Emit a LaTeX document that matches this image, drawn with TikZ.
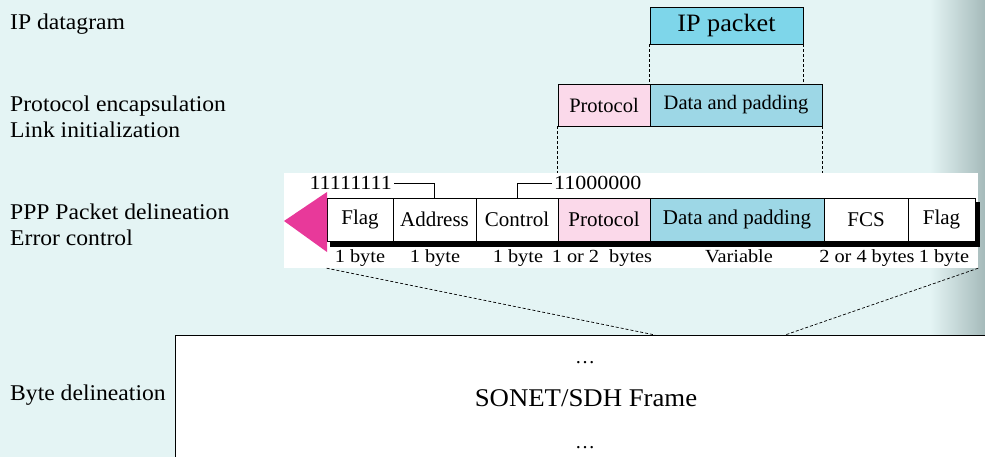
\documentclass[tikz,border=0pt]{standalone}
\usepackage{fontspec}
\setmainfont{Liberation Serif}
\newfontfamily\lblfont[FakeStretch=1.05]{Liberation Serif}
\newfontfamily\bitfont[FakeStretch=1.1]{Liberation Serif}
\newcommand\sizelblfont{\bitfont\fontsize{18.5}{22}\selectfont\spaceskip 5pt\relax}
\usetikzlibrary{calc}

\definecolor{bgcyan}{HTML}{E4F4F4}
\definecolor{edgegray}{HTML}{A5BABA}
\definecolor{ipblue}{HTML}{7ED6EA}
\definecolor{datablue}{HTML}{9DD7E6}
\definecolor{protopink}{HTML}{FBD9EA}
\definecolor{flagmagenta}{HTML}{E8399A}

\begin{document}
\begin{tikzpicture}[x=1pt,y=-1pt,
  layer/.style={anchor=base west, inner sep=0pt,
    font=\lblfont\fontsize{22.5}{26}\selectfont},
  hdrbox/.style={draw=black, line width=0.8pt, inner sep=0pt,
    font=\fontsize{20.5}{24}\selectfont},
  field/.style={draw=black, line width=0.8pt, inner sep=0pt, fill=white,
    minimum height=43pt, font=\fontsize{21}{24}\selectfont},
  sizelbl/.style={anchor=base, inner sep=0pt, font=\sizelblfont},
  bits/.style={inner sep=2pt, font=\bitfont\fontsize{20}{22}\selectfont},
  guide/.style={line width=0.7pt, dash pattern=on 3pt off 2pt},
  lead/.style={line width=0.8pt}]

\clip (0,0) rectangle (985,457);
\useasboundingbox (0,0) rectangle (985,457);

% background with darker right margin
\fill[bgcyan] (0,0) rectangle (985,457);
\shade[left color=bgcyan, right color=edgegray] (930,0) rectangle (985,457);

% layer names
\node[layer] (l1) at (10,30) {IP datagram};
\node[layer] (l2) at (10,112) {Protocol encapsulation};
\node[layer] (l3) at (10,138) {Link initialization};
\node[layer] (l4) at (10,219) {PPP Packet delineation};
\node[layer] (l5) at (10,245) {Error control};
\node[layer] (l6) at (10,400) {Byte delineation};

% IP datagram
\node[hdrbox, fill=ipblue, minimum width=153pt, minimum height=37pt,
  font=\lblfont\fontsize{25}{28}\selectfont] (ip) at (726.5,25.5) {IP packet};

% protocol encapsulation
\node[hdrbox, fill=protopink, minimum width=92pt, minimum height=42pt] (proto2) at (604,105) {Protocol};
\node[hdrbox, fill=datablue, minimum width=172pt, minimum height=42pt] (data2) at (736,105) {Data and padding};

\draw[guide] (ip.south west) -- (data2.north west);
\draw[guide] (ip.south east) -- (ip.south east |- data2.north);

% PPP frame on its white panel
\node[fill=white, inner sep=0pt, minimum width=694pt, minimum height=95pt] (panel) at (631,220.5) {};
\draw[guide] (proto2.south west) -- (proto2.south west |- panel.north);
\draw[guide] (data2.south east) -- (data2.south east |- panel.north);

\fill[black] (330,202) rectangle (979.5,246.5);

\node[field, minimum width=66pt] (flagL) at (360,219.5) {Flag};
\node[field, minimum width=83pt] (addr) at (434.5,219.5) {Address};
\node[field, minimum width=82pt] (ctrl) at (517,219.5) {Control};
\node[field, minimum width=92pt, fill=protopink] (proto3) at (604,219.5) {Protocol};
\node[field, minimum width=174pt, fill=datablue] (data3) at (737,219.5) {Data and padding};
\node[field, minimum width=84pt] (fcs) at (866,219.5) {FCS};
\node[field, minimum width=67pt] (flagR) at (941.5,219.5) {Flag};

% direction of transmission
\fill[flagmagenta] (284,221) -- (327,192) -- (327,252) -- cycle;

% field sizes
\node[sizelbl] (s1) at (360,262) {1 byte};
\node[sizelbl] (s2) at (435,262) {1 byte};
\node[sizelbl] (s3) at (518,262) {1 byte};
\node[sizelbl] (s4) at (602,262) {1 or 2\ \ bytes};
\node[sizelbl] (s5) at (739,262) {Variable};
\node[sizelbl] (s6) at (867,262) {2 or 4 bytes};
\node[sizelbl] (s7) at (944,262) {1 byte};

% fixed address and control values
\node[bits, anchor=east] (b1) at (394,183) {11111111};
\node[bits, anchor=west] (b2) at (552,183) {11000000};
\draw[lead] (b1.east) -| (addr.north);
\draw[lead] (ctrl.north) |- (b2.west);

% SONET/SDH frame
\node[draw=black, line width=0.8pt, fill=white, inner sep=0pt,
  minimum width=830pt, minimum height=140pt, anchor=north west] (sonet) at (175,335) {};
\node[anchor=base, inner sep=0pt, font=\fontsize{20}{22}\selectfont] (dt) at (585,363) {\dots};
\node[anchor=base, inner sep=0pt, font=\lblfont\fontsize{25.5}{28}\selectfont] (sf) at (586,406) {SONET/SDH Frame};
\node[anchor=base, inner sep=0pt, font=\fontsize{20}{22}\selectfont] (db) at (585,448) {\dots};

\coordinate (sonetL) at (655,335);
\coordinate (sonetR) at (785,335);
\draw[guide] (flagL.south west |- panel.south) -- (sonetL);
\draw[guide] (panel.south east) -- (sonetR);

\end{tikzpicture}
\end{document}
